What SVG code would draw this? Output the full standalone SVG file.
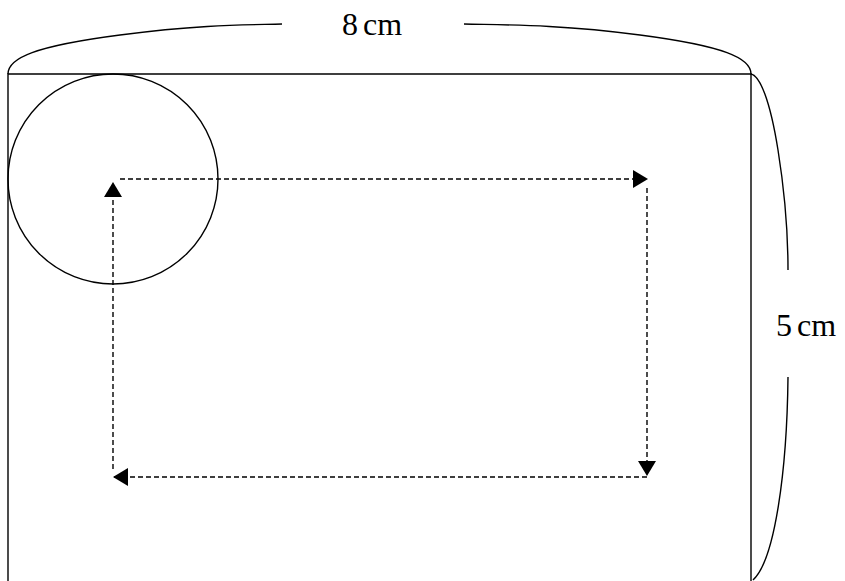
<svg xmlns="http://www.w3.org/2000/svg" width="845" height="581" viewBox="0 0 845 581">
<style>
.s{fill:none;stroke:#000;stroke-width:1.4}
.d{fill:none;stroke:#000;stroke-width:1.4;stroke-dasharray:5 3}
.t{font-family:"Liberation Serif","DejaVu Serif",serif;font-size:32px;word-spacing:-3px;fill:#000}
</style>
<defs>
<marker id="arr" viewBox="0 0 15 18" refX="15" refY="9" markerWidth="15" markerHeight="18" markerUnits="userSpaceOnUse" orient="auto">
<path d="M0,0 L15,9 L0,18 z" fill="#000"/>
</marker>
</defs>
<rect width="845" height="581" fill="#fff"/>
<g id="sheet">
<path class="s" d="M8,590 L8,74 L751,74 L751,590"/>
</g>
<g id="circle">
<circle class="s" cx="113" cy="179" r="105"/>
</g>
<g id="braces">
<path class="s" d="M8,74 C8,58 35,46 120,35 S250,25 282,24"/>
<path class="s" d="M751,74 C751,58 724,46 640,35 S500,25 464,24"/>
<path class="s" d="M751,74 C760,76 770,100 778,150 S788,240 788,270"/>
<path class="s" d="M788,377 C787,470 775,560 753,580"/>
</g>
<g id="labels">
<text class="t" x="342" y="35">8 cm</text>
<text class="t" x="776" y="336">5 cm</text>
</g>
<g id="connectors">
<path class="d" d="M120,179 L648,179" marker-end="url(#arr)"/>
<path class="d" d="M647,188 L647,476" marker-end="url(#arr)"/>
<path class="d" d="M647,477 L113,477" marker-end="url(#arr)"/>
<path class="d" d="M113,469 L113,182" marker-end="url(#arr)"/>
</g>
</svg>
